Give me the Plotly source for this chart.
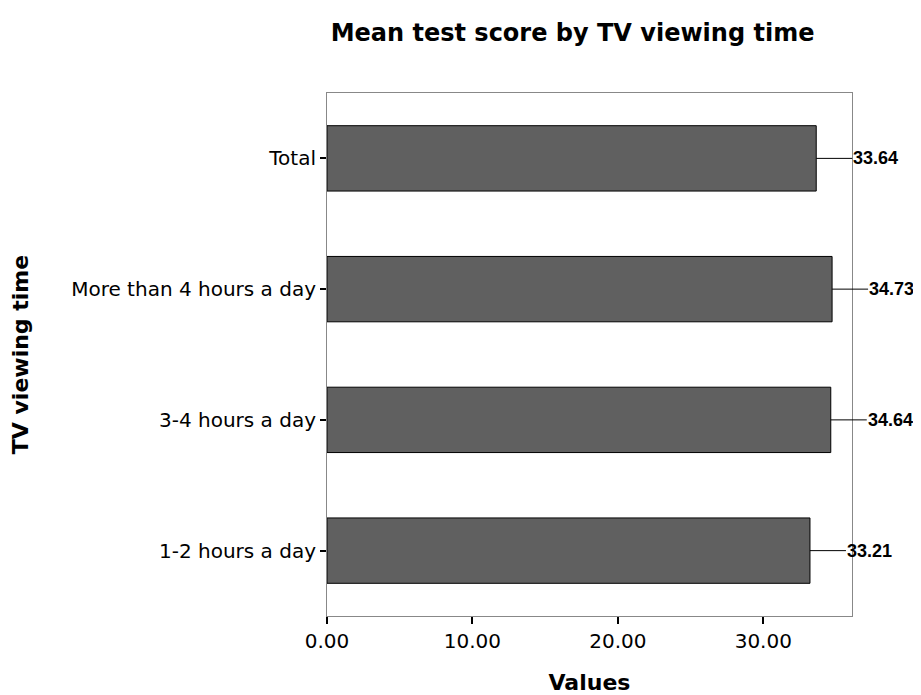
import plotly.graph_objects as go

categories = ["1-2 hours a day", "3-4 hours a day", "More than 4 hours a day", "Total"]
means = [33.21, 34.64, 34.73, 33.64]
tick_vals = [0, 10, 20, 30]
tick_text = ["0.00", "10.00", "20.00", "30.00"]

fig = go.Figure()
fig.add_trace(go.Bar(
    x=means, y=categories, orientation="h", width=0.5,
    marker=dict(color="#606060", line=dict(color="#000000", width=1)),
    hoverinfo="x+y",
))

for c, v in zip(categories, means):
    fig.add_annotation(
        x=v, y=c, xref="x", yref="y", text="<b>%.2f</b>" % v,
        showarrow=True, arrowhead=0, arrowwidth=1, arrowcolor="#000000",
        ax=36, ay=0, xanchor="left", yanchor="middle", borderpad=0,
        font=dict(family="Liberation Sans, Arial, sans-serif", size=18, color="#000000"),
    )

fig.update_layout(
    width=921, height=695,
    margin=dict(l=319, r=77, t=85, b=87),
    paper_bgcolor="white", plot_bgcolor="white",
    showlegend=False,
    title=dict(text="<b>Mean test score by TV viewing time</b>", x=0.613, xanchor="center",
               y=0.965, yanchor="middle",
               font=dict(family="DejaVu Sans, sans-serif", size=24, color="#000000")),
    font=dict(family="DejaVu Sans, sans-serif", size=20, color="#000000"),
)
fig.update_xaxes(
    range=[0, 36.1], tickvals=tick_vals, ticktext=tick_text,
    ticks="outside", ticklen=7, tickwidth=2, tickcolor="#000000",
    showline=True, linecolor="#888888", linewidth=1, mirror=True,
    showgrid=False, zeroline=False,
    title=dict(text="<b>Values</b>", standoff=22,
               font=dict(family="DejaVu Sans, sans-serif", size=22)),
    tickfont=dict(size=20),
)
fig.update_yaxes(
    range=[-0.5, 3.5], categoryorder="array", categoryarray=categories,
    ticks="outside", ticklen=6, tickwidth=2, tickcolor="#000000",
    showline=True, linecolor="#888888", linewidth=1, mirror=True,
    showgrid=False, zeroline=False,
    title=dict(text="<b>TV viewing time</b>", standoff=36,
               font=dict(family="DejaVu Sans, sans-serif", size=22)),
    tickfont=dict(size=20),
)

fig.write_html("out.html")
